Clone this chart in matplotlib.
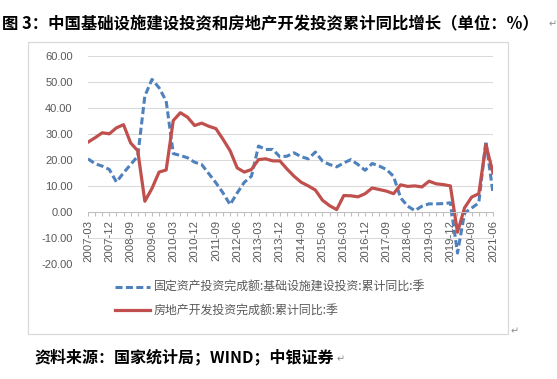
import numpy as np
import matplotlib
matplotlib.use("Agg")
import matplotlib.pyplot as plt
from matplotlib.patches import Rectangle
from matplotlib.lines import Line2D

plt.rcParams["font.family"] = ["Noto Sans CJK SC", "DejaVu Sans"]

# ── data (quarterly, cumulative YoY %) ─────────────────────────
quarters = [f"{y}-{m:02d}" for y in range(2007, 2022) for m in (3, 6, 9, 12)][:58]

infra = [20.4, 18.5, 17.6, 16.3, 11.5, 15.0, 18.2, 21.4,
         44.5, 50.9, 47.7, 42.6, 22.4, 21.7, 20.8, 19.1,
         18.2, 14.7, 11.2, 7.3, 2.8, 7.3, 11.4, 13.7,
         25.3, 24.0, 24.0, 21.2, 21.4, 22.7, 21.2, 20.4,
         23.0, 19.5, 18.2, 17.3, 18.8, 20.1, 18.2, 16.0,
         18.6, 17.6, 16.3, 13.7, 5.4, 2.2, 0.5, 2.2,
         3.1, 3.1, 3.2, 3.5, -15.8, -0.4, 1.5, 3.5,
         27.2, 7.3]

estate = [26.8, 28.5, 30.4, 30.0, 32.3, 33.5, 26.5, 23.5,
          4.1, 9.0, 15.3, 16.1, 35.1, 38.1, 36.4, 33.2,
          34.1, 32.9, 32.0, 27.9, 23.5, 16.9, 15.3, 16.3,
          20.1, 20.4, 19.6, 19.6, 16.5, 13.7, 11.4, 10.0,
          8.4, 4.5, 2.4, 0.9, 6.3, 6.2, 5.8, 7.0,
          9.2, 8.6, 8.0, 7.0, 10.4, 9.8, 10.0, 9.6,
          11.8, 10.8, 10.5, 10.0, -7.8, 1.6, 5.7, 7.0,
          25.8, 15.0]

label_infra = "固定资产投资完成额:基础设施建设投资:累计同比:季"
label_estate = "房地产开发投资完成额:累计同比:季"
y_ticks = [-20, -10, 0, 10, 20, 30, 40, 50, 60]

BLUE = "#4F81BD"
RED = "#C0504D"
GREY_TXT = "#595959"

# ── figure ─────────────────────────────────────────────────────
W, H = 557, 379
fig = plt.figure(figsize=(W / 100, H / 100), dpi=100, facecolor="white")
ax = fig.add_axes([88 / W, 1 - 264 / H, (493 - 88) / W, (264 - 55.7) / H])

# spine position first: moving it resets the tick objects
for side in ["top", "right", "left"]:
    ax.spines[side].set_visible(False)
ax.spines["bottom"].set_position(("data", 0))
ax.spines["bottom"].set_color("#BFBFBF")
ax.spines["bottom"].set_linewidth(0.75)

x = np.arange(len(quarters))
ax.plot(x, infra, color=BLUE, lw=2.2, dashes=(2.3, 1.1), solid_capstyle="butt")
ax.plot(x, estate, color=RED, lw=2.3, solid_joinstyle="round")

ax.set_xlim(0, len(quarters) - 1)
ax.set_ylim(-20, 60)
ax.set_yticks(y_ticks)
ax.set_yticklabels([f"{v:.2f}" for v in y_ticks], family="Liberation Sans",
                   fontsize=8, color=GREY_TXT)
ax.set_xticks(x[::3])
ax.set_xticklabels(quarters[::3], rotation=90, family="Liberation Sans",
                   fontsize=8.2, color=GREY_TXT, va="top", ha="center")
ax.set_xticks(x, minor=True)

ax.grid(axis="y", color="#D9D9D9", lw=0.75)
ax.set_axisbelow(True)
ax.tick_params(axis="y", length=0, pad=11)
ax.tick_params(axis="x", which="both", length=3, width=0.75,
               color="#BFBFBF", pad=3)

# chart border
fig.add_artist(Rectangle((28 / W, 1 - 334 / H), (508 - 28) / W, (334 - 42) / H,
                         transform=fig.transFigure, fill=False,
                         edgecolor="#D9D9D9", lw=0.9))

# legend
handles = [Line2D([], [], color=BLUE, lw=2.2, dashes=(2.3, 1.1)),
           Line2D([], [], color=RED, lw=2.3)]
leg = fig.legend(handles, [label_infra, label_estate], loc="upper left",
                 bbox_to_anchor=(115 / W, 1 - 281 / H), frameon=False,
                 borderpad=0, borderaxespad=0, handlelength=2.95,
                 handletextpad=0.3, labelspacing=0.85,
                 prop={"size": 8.6})
for t in leg.get_texts():
    t.set_color(GREY_TXT)

# title and source
fig.text(2 / W, 1 - 24 / H, "图 3：中国基础设施建设投资和房地产开发投资累计同比增长（单位：%）",
         ha="left", va="center", fontsize=11.8, fontweight="bold", color="black")
fig.text(34 / W, 1 - 357 / H, "资料来源：国家统计局；WIND；中银证券",
         ha="left", va="center", fontsize=11.5, fontweight="bold", color="black")

# word paragraph marks
for px, py in [(549, 24), (511, 331), (337, 359)]:
    fig.text(px / W, 1 - py / H, "↵", ha="left", va="center", fontsize=7,
             color="#8C8C8C", family="DejaVu Sans")

plt.savefig("out.png", dpi=100, facecolor=fig.get_facecolor())
plt.close()
